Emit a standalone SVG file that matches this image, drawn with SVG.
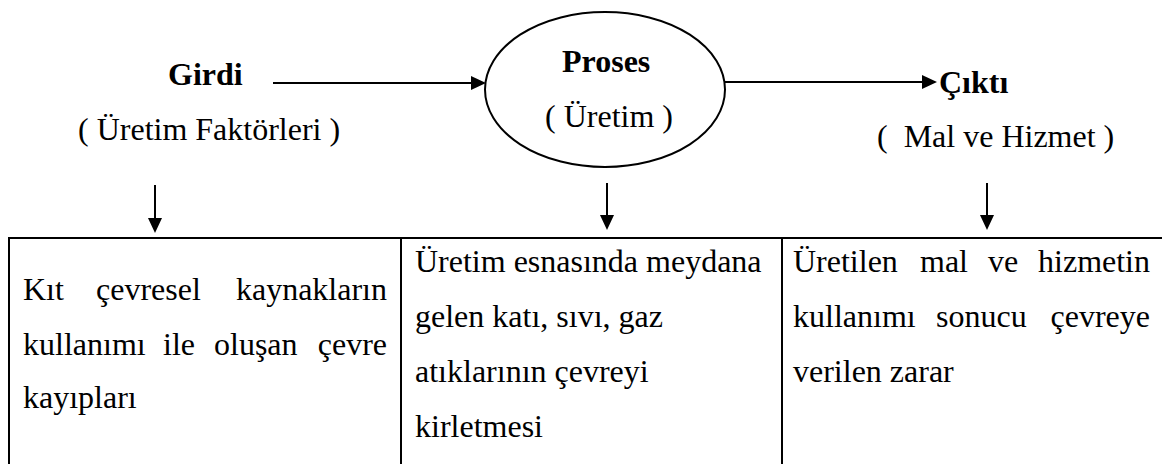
<svg xmlns="http://www.w3.org/2000/svg" width="1162" height="464" viewBox="0 0 1162 464">
<style>
text{font-family:"Liberation Serif","Times New Roman",serif;font-size:32px;fill:#000;white-space:pre}
.b{font-weight:bold}
.ln{stroke:#000;stroke-width:2;fill:none}
</style>
<defs>
<marker id="ah" markerUnits="userSpaceOnUse" markerWidth="16" markerHeight="16" refX="7" refY="7" orient="auto">
<path d="M0,0 L15,7 L0,14 z" fill="#000"/>
</marker>
</defs>
<rect width="1162" height="464" fill="#fff"/>
<g id="girdi">
<text class="b" x="168" y="85">Girdi</text>
<text x="78" y="140">( Üretim Faktörleri )</text>
</g>
<g id="proses">
<ellipse class="ln" cx="605" cy="89.5" rx="120" ry="77.5"/>
<text class="b" x="562" y="72">Proses</text>
<text x="545" y="127">( Üretim )</text>
</g>
<g id="cikti">
<text class="b" x="939" y="93">Çıktı</text>
<text x="877" y="147">(  Mal ve Hizmet )</text>
</g>
<g id="connectors">
<line class="ln" x1="273" y1="83" x2="478" y2="83" marker-end="url(#ah)"/>
<line class="ln" x1="725" y1="82" x2="929" y2="82" marker-end="url(#ah)"/>
<line class="ln" x1="155" y1="185" x2="155" y2="225" marker-end="url(#ah)"/>
<line class="ln" x1="607" y1="183" x2="607" y2="222" marker-end="url(#ah)"/>
<line class="ln" x1="987" y1="183" x2="987" y2="222" marker-end="url(#ah)"/>
</g>
<g id="table">
<line class="ln" x1="8" y1="238" x2="1162" y2="238"/>
<line class="ln" x1="9" y1="237" x2="9" y2="464"/>
<line class="ln" x1="401" y1="237" x2="401" y2="464"/>
<line class="ln" x1="782" y1="237" x2="782" y2="464"/>
</g>
<g id="cell1">
<text x="23" y="300">Kıt</text>
<text x="96" y="300">çevresel</text>
<text x="387" y="300" text-anchor="end">kaynakların</text>
<text x="23" y="355">kullanımı</text>
<text x="163" y="355">ile</text>
<text x="214" y="355">oluşan</text>
<text x="387" y="355" text-anchor="end">çevre</text>
<text x="23" y="408">kayıpları</text>
</g>
<g id="cell2">
<text x="415" y="272">Üretim esnasında meydana</text>
<text x="415" y="327">gelen katı, sıvı, gaz</text>
<text x="415" y="382">atıklarının çevreyi</text>
<text x="415" y="437">kirletmesi</text>
</g>
<g id="cell3">
<text x="793" y="272">Üretilen</text>
<text x="920" y="272">mal</text>
<text x="988" y="272">ve</text>
<text x="1150" y="272" text-anchor="end">hizmetin</text>
<text x="793" y="327">kullanımı</text>
<text x="936" y="327">sonucu</text>
<text x="1150" y="327" text-anchor="end">çevreye</text>
<text x="793" y="382">verilen zarar</text>
</g>
</svg>
